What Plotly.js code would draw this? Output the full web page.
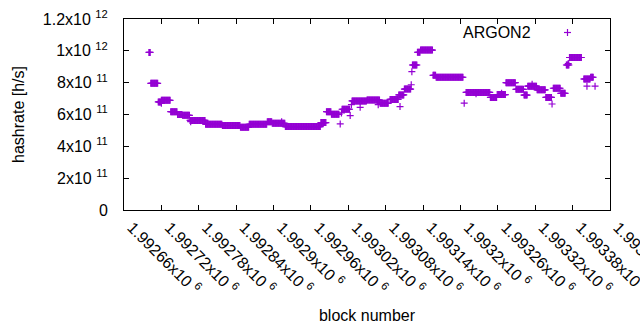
<!DOCTYPE html>
<html>
<head>
<meta charset="utf-8">
<script src="https://cdn.plot.ly/plotly-3.0.1.min.js"></script>
<style>html,body{margin:0;padding:0;background:#fff;}#chart{width:640px;height:330px;}</style>
</head>
<body>
<div id="chart"></div>
<script>
// Runs of consecutive blocks sharing the same hashrate estimate (values in h/s)
var runStart = [1992700,1992703,1992715,1992720,1992735,1992746,1992754,1992766,1992791,1992818,1992847,1992861,1992890,1992898,1992919,1992976,1992985,1992993,1993010,1993026,1993050,1993071,1993087,1993101,1993110,1993123,1993131,1993136,1993156,1993161,1993209,1993248,1993259,1993273,1993289,1993302,1993308,1993323,1993337,1993349,1993361,1993370,1993375,1993398,1993409];
var runEnd   = [1992702,1992714,1992719,1992734,1992745,1992753,1992765,1992790,1992817,1992846,1992860,1992889,1992897,1992918,1992975,1992984,1992992,1993005,1993022,1993049,1993070,1993084,1993100,1993109,1993120,1993130,1993135,1993155,1993160,1993204,1993247,1993258,1993272,1993288,1993301,1993307,1993322,1993336,1993346,1993360,1993368,1993374,1993394,1993408,1993413];
var runValue = [9.9e11,7.96e11,6.79e11,6.89e11,6.18e11,6.0e11,5.95e11,5.63e11,5.39e11,5.31e11,5.2e11,5.38e11,5.55e11,5.45e11,5.24e11,5.49e11,6.18e11,6.01e11,6.33e11,6.85e11,6.91e11,6.70e11,6.95e11,7.23e11,7.6e11,9.11e11,9.91e11,10.05e11,8.46e11,8.34e11,7.39e11,7.07e11,7.25e11,8.0e11,7.58e11,7.22e11,7.78e11,7.55e11,7.07e11,7.65e11,7.33e11,9.11e11,9.58e11,8.23e11,8.34e11];

// Isolated blocks
var singleBlock = [1992720,1992767,1992913,1993007,1993009,1993023,1993025,1993039,1993068,1993103,1993121,1993122,1993206,1993225,1993266,1993315,1993347,1993373,1993403,1993416];
var singleValue = [6.7e11,5.55e11,5.55e11,5.41e11,6.1e11,5.93e11,6.62e11,6.45e11,6.62e11,6.5e11,7.87e11,8.69e11,6.71e11,7.3e11,7.33e11,7.9e11,6.66e11,9.2e11,7.78e11,7.78e11];

var xTickVals = [1992660,1992720,1992780,1992840,1992900,1992960,1993020,1993080,1993140,1993200,1993260,1993320,1993380,1993440];
var xTickText = ["1.99266x10 <sup>6</sup>","1.99272x10 <sup>6</sup>","1.99278x10 <sup>6</sup>","1.99284x10 <sup>6</sup>","1.9929x10 <sup>6</sup>","1.99296x10 <sup>6</sup>","1.99302x10 <sup>6</sup>","1.99308x10 <sup>6</sup>","1.99314x10 <sup>6</sup>","1.9932x10 <sup>6</sup>","1.99326x10 <sup>6</sup>","1.99332x10 <sup>6</sup>","1.99338x10 <sup>6</sup>","1.99344x10 <sup>6</sup>"];
var yTickVals = [0,2e11,4e11,6e11,8e11,1e12,1.2e12];
var yTickText = ["0","2x10 <sup>11</sup>","4x10 <sup>11</sup>","6x10 <sup>11</sup>","8x10 <sup>11</sup>","1x10 <sup>12</sup>","1.2x10 <sup>12</sup>"];

var xs = [], ys = [];
for (var i = 0; i < runStart.length; i++) {
  for (var b = runStart[i]; b <= runEnd[i]; b++) { xs.push(b); ys.push(runValue[i]); }
}
for (var j = 0; j < singleBlock.length; j++) { xs.push(singleBlock[j]); ys.push(singleValue[j]); }

var purple = '#9400d3';
var FONT = 'Liberation Sans, Arial, sans-serif';

var trace = {
  x: xs, y: ys, type: 'scatter', mode: 'markers', name: 'ARGON2',
  marker: {symbol: 'cross-thin', size: 5, color: purple, line: {color: purple, width: 1.2}},
  showlegend: false, hoverinfo: 'x+y'
};

var L = 124, R = 610, T = 19, B = 210;
function px2paperX(p){ return (p - L) / (R - L); }
function px2paperY(p){ return (B - p) / (B - T); }

var layout = {
  width: 640, height: 330,
  margin: {l: L, r: 640 - R, t: T, b: 330 - B, pad: 0},
  paper_bgcolor: '#fff', plot_bgcolor: '#fff',
  font: {family: FONT, size: 16, color: '#000'},
  showlegend: false,
  xaxis: {
    range: [1992660, 1993440], tickmode: 'array', tickvals: xTickVals, ticktext: xTickText,
    tickangle: 45, ticks: 'inside', ticklen: 5, tickcolor: '#000', tickwidth: 1,
    showline: true, linecolor: '#000', linewidth: 1, mirror: 'ticks',
    showgrid: false, zeroline: false, automargin: false, ticklabeloverflow: 'allow',
    tickfont: {family: FONT, size: 16, color: '#000'}, ticklabelstandoff: 1, ticklabelshift: 8,
    title: {text: 'block number', font: {family: FONT, size: 16, color: '#000'}, standoff: 13}
  },
  yaxis: {
    range: [0, 1.2e12], tickmode: 'array', tickvals: yTickVals, ticktext: yTickText,
    ticks: 'inside', ticklen: 5, tickcolor: '#000', tickwidth: 1,
    showline: true, linecolor: '#000', linewidth: 1, mirror: 'ticks',
    showgrid: false, zeroline: false, automargin: false,
    tickfont: {family: FONT, size: 16, color: '#000'}, ticklabelstandoff: 12,
    title: {text: 'hashrate [h/s]', font: {family: FONT, size: 16, color: '#000'}, standoff: 14}
  },
  annotations: [{
    text: 'ARGON2', xref: 'paper', yref: 'paper', x: px2paperX(533), y: px2paperY(32),
    xanchor: 'right', yanchor: 'middle', showarrow: false,
    font: {family: FONT, size: 16, color: '#000'}
  }],
  shapes: [
    {type: 'line', xref: 'paper', yref: 'paper', x0: px2paperX(564), x1: px2paperX(571), y0: px2paperY(32.5), y1: px2paperY(32.5), line: {color: purple, width: 1.2}},
    {type: 'line', xref: 'paper', yref: 'paper', x0: px2paperX(567.5), x1: px2paperX(567.5), y0: px2paperY(29), y1: px2paperY(36), line: {color: purple, width: 1.2}}
  ]
};

Plotly.newPlot('chart', [trace], layout, {staticPlot: true, displayModeBar: false});
</script>
</body>
</html>
